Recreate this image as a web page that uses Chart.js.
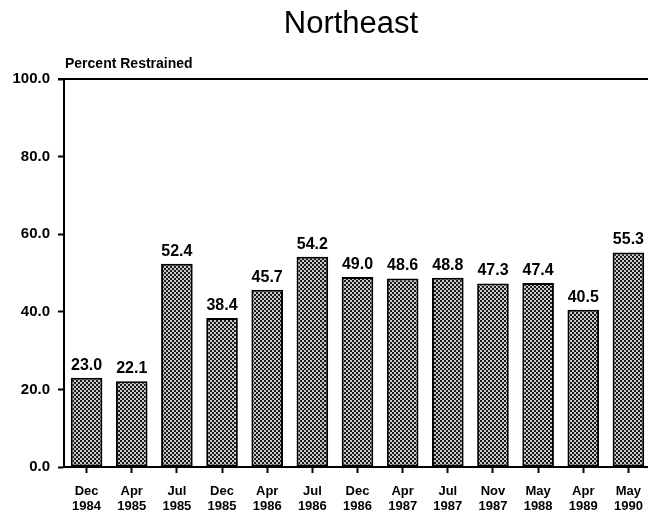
<!DOCTYPE html>
<html>
<head>
<meta charset="utf-8">
<script src="https://cdn.jsdelivr.net/npm/chart.js@4.4.1/dist/chart.umd.min.js"></script>
<style>
  html, body { margin: 0; padding: 0; background: #fff; overflow: hidden; }
  #wrap { width: 648px; height: 519px; overflow: hidden; }
</style>
</head>
<body>
<div id="wrap"><canvas id="chart" width="651" height="519"></canvas></div>
<script>
// survey dates (month / year)
const months = ["Dec", "Apr", "Jul", "Dec", "Apr", "Jul", "Dec", "Apr", "Jul", "Nov", "May", "Apr", "May"];
const years = ["1984", "1985", "1985", "1985", "1986", "1986", "1986", "1987", "1987", "1987", "1988", "1989", "1990"];
// percent restrained
const restrained = [23.0, 22.1, 52.4, 38.4, 45.7, 54.2, 49.0, 48.6, 48.8, 47.3, 47.4, 40.5, 55.3];
const yTicks = [0, 20, 40, 60, 80, 100];

const labels = months.map((m, i) => [m, years[i]]);

// crosshatch fill like the printed bars
function hatch() {
  const c = document.createElement("canvas");
  c.width = 4;
  c.height = 4;
  const g = c.getContext("2d");
  g.fillStyle = "#c8c8c8";
  g.fillRect(0, 0, 4, 4);
  g.fillStyle = "#1a1a1a";
  g.fillRect(0, 0, 2, 2);
  g.fillRect(2, 2, 2, 2);
  return g.createPattern(c, "repeat");
}

const FONT = "'Liberation Sans', Arial, sans-serif";

const extras = {
  id: "extras",
  afterDraw(chart) {
    const ctx = chart.ctx;
    const area = chart.chartArea;
    ctx.save();
    // title
    ctx.fillStyle = "#000";
    ctx.font = "31px " + FONT;
    ctx.textAlign = "center";
    ctx.textBaseline = "alphabetic";
    ctx.fillText("Northeast", 351, 33);
    // axis caption
    ctx.font = "bold 14px " + FONT;
    ctx.textAlign = "left";
    ctx.fillText("Percent Restrained", area.left + 1, 68);
    // top rule at 100
    ctx.strokeStyle = "#000";
    ctx.lineWidth = 2;
    ctx.beginPath();
    ctx.moveTo(area.left - 6, area.top);
    ctx.lineTo(chart.width, area.top);
    ctx.stroke();
    // values above bars
    ctx.font = "bold 16px " + FONT;
    ctx.textAlign = "center";
    const meta = chart.getDatasetMeta(0);
    meta.data.forEach((bar, i) => {
      ctx.fillText(restrained[i].toFixed(1), bar.x, bar.y - 8);
    });
    ctx.restore();
  }
};

new Chart(document.getElementById("chart").getContext("2d"), {
  type: "bar",
  data: {
    labels: labels,
    datasets: [
      {
        data: restrained,
        backgroundColor: hatch(),
        borderColor: "#000",
        borderWidth: 2,
        borderSkipped: false,
        categoryPercentage: 1,
        barPercentage: 0.7,
      },
    ],
  },
  options: {
    responsive: false,
    animation: false,
    layout: { padding: { top: 79, right: 0, left: 1, bottom: 0 } },
    plugins: {
      legend: { display: false },
      tooltip: { enabled: false },
    },
    scales: {
      x: {
        grid: {
          offset: false,
          drawOnChartArea: false,
          drawTicks: true,
          tickLength: 6,
          tickColor: "#000",
          tickWidth: 2,
        },
        border: { display: true, color: "#000", width: 2 },
        ticks: {
          color: "#000",
          font: { family: FONT, size: 13, weight: "bold", lineHeight: 1.15 },
          padding: 11,
          maxRotation: 0,
          autoSkip: false,
        },
        afterFit: (s) => {
          s.height = 52;
          s.paddingLeft = 0;
          s.paddingRight = 0;
        },
      },
      y: {
        min: 0,
        max: 100,
        afterBuildTicks: (s) => { s.ticks = yTicks.map((v) => ({ value: v })); },
        grid: {
          drawOnChartArea: false,
          drawTicks: true,
          tickLength: 6,
          tickColor: "#000",
          tickWidth: 2,
        },
        border: { display: true, color: "#000", width: 2 },
        ticks: {
          color: "#000",
          font: { family: FONT, size: 15, weight: "bold" },
          padding: 8,
          callback: (v) => Number(v).toFixed(1),
        },
        afterFit: (s) => { s.width = 63; },
      },
    },
  },
  plugins: [extras],
});
</script>
</body>
</html>
